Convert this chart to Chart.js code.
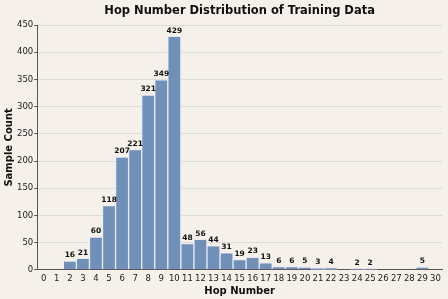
<!DOCTYPE html>
<html lang="en">
<head>
    <meta charset="UTF-8">
    <title>Hop Number Distribution</title>
    <style>
        html, body { margin: 0; padding: 0; background-color: #f5f0ea; }
        #wrap { width: 448px; height: 299px; position: relative; }
    </style>
</head>
<body>
    <div id="wrap"><canvas id="myChart"></canvas></div>

    <script src="https://cdn.jsdelivr.net/npm/chart.js"></script>
    <script>
        var hops = [];
        for (var h = 0; h <= 30; h++) hops.push(h);
        var counts = [0, 0, 16, 21, 60, 118, 207, 221, 321, 349, 429, 48, 56, 44, 31, 19, 23, 13, 6, 6, 5, 3, 4, 0, 2, 2, 0, 0, 0, 5, 0];
        var yTicks = [0, 50, 100, 150, 200, 250, 300, 350, 400, 450];
        var chartTitle = 'Hop Number Distribution of Training Data';

        var fontFamily = '"DejaVu Sans", sans-serif';

        // value labels above each non-empty bar + title centred over the plot
        var barLabels = {
            id: 'barLabels',
            afterDatasetsDraw: function (chart) {
                var ctx = chart.ctx;
                var meta = chart.getDatasetMeta(0);
                var area = chart.chartArea;
                ctx.save();
                ctx.font = 'bold 7.5px ' + fontFamily;
                ctx.fillStyle = '#111';
                ctx.textAlign = 'center';
                ctx.textBaseline = 'bottom';
                meta.data.forEach(function (bar, i) {
                    if (counts[i] > 0) ctx.fillText(counts[i], bar.x, bar.y - 2);
                });
                ctx.font = 'bold 11.5px ' + fontFamily;
                ctx.textBaseline = 'middle';
                ctx.fillText(chartTitle, (area.left + area.right) / 2, 11);
                ctx.restore();
            }
        };

        document.addEventListener('DOMContentLoaded', function () {
            new Chart(document.getElementById('myChart'), {
                type: 'bar',
                data: {
                    datasets: [{
                        data: hops.map(function (h, i) { return { x: h, y: counts[i] }; }),
                        backgroundColor: '#7090b7',
                        borderColor: '#e8ecf2',
                        borderWidth: 1,
                        barPercentage: 1,
                        categoryPercentage: 1
                    }]
                },
                options: {
                    responsive: true,
                    maintainAspectRatio: false,
                    animation: false,
                    layout: { padding: { left: 3, right: 6, top: 25, bottom: 1 } },
                    plugins: {
                        legend: { display: false },
                        tooltip: { enabled: false }
                    },
                    scales: {
                        x: {
                            type: 'linear',
                            offset: false,
                            min: -0.5,
                            max: 30.5,
                            afterBuildTicks: function (axis) {
                                axis.ticks = hops.map(function (v) { return { value: v }; });
                            },
                            grid: { display: false, drawTicks: true, tickLength: 3 },
                            border: { color: '#555', width: 1 },
                            ticks: {
                                color: '#222',
                                font: { family: fontFamily, size: 8.5 },
                                maxRotation: 0,
                                autoSkip: false,
                                padding: 1,
                                callback: function (v) { return String(v); }
                            },
                            title: {
                                display: true,
                                text: 'Hop Number',
                                color: '#111',
                                font: { family: fontFamily, size: 10, weight: 'bold' },
                                padding: { top: 0, bottom: 1 }
                            }
                        },
                        y: {
                            min: 0,
                            max: 450,
                            afterBuildTicks: function (axis) {
                                axis.ticks = yTicks.map(function (v) { return { value: v }; });
                            },
                            grid: {
                                color: '#dedad5',
                                tickLength: 3,
                                tickColor: '#555'
                            },
                            border: { color: '#555', width: 1 },
                            ticks: {
                                color: '#222',
                                font: { family: fontFamily, size: 8.5 },
                                padding: 1
                            },
                            title: {
                                display: true,
                                text: 'Sample Count',
                                color: '#111',
                                font: { family: fontFamily, size: 10, weight: 'bold' },
                                padding: { top: 0, bottom: 1 }
                            }
                        }
                    }
                },
                plugins: [barLabels]
            });
        });
    </script>
</body>
</html>
